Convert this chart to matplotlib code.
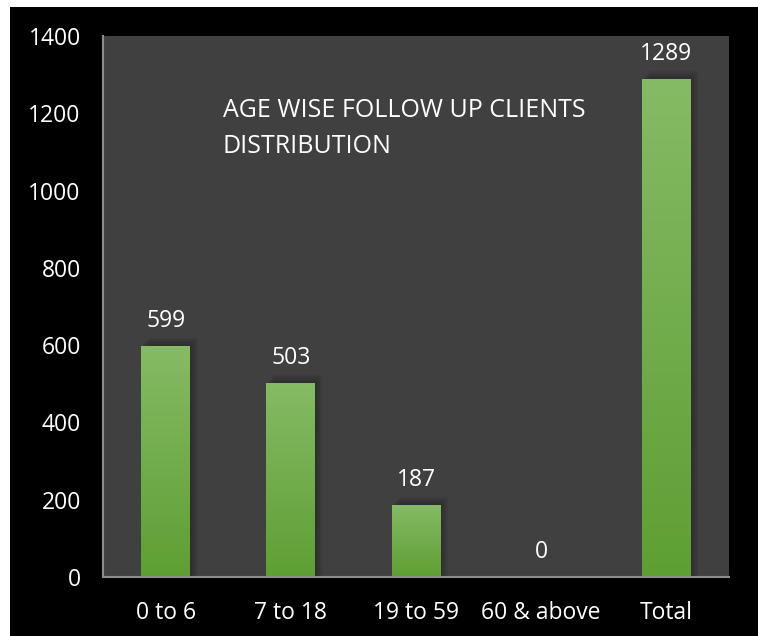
import numpy as np
import matplotlib.pyplot as plt
from matplotlib.patches import Rectangle
from matplotlib.colors import LinearSegmentedColormap

categories = ["0 to 6", "7 to 18", "19 to 59", "60 & above", "Total"]
clients = [599, 503, 187, 0, 1289]
yticks = [0, 200, 400, 600, 800, 1000, 1200, 1400]

plt.rcParams['font.family'] = ['Open Sans', 'DejaVu Sans']

W, H = 758, 636
fig = plt.figure(figsize=(W / 100, H / 100), dpi=100, facecolor="white")
# black chart area (behind the axes)
fig.patches.append(Rectangle((10 / W, 0), 1 - 10 / W, 1 - 7 / H,
                             transform=fig.transFigure, facecolor="black",
                             edgecolor="none", zorder=-10))

ax = fig.add_axes([103 / W, 59 / H, 626 / W, 541 / H])
ax.set_facecolor("#404040")

x = np.arange(len(categories))
bars = ax.bar(x, clients, width=0.39, color="#72ad4b", zorder=2)

# vertical gradient + soft shadow on each bar
green = LinearSegmentedColormap.from_list("g", ["#5e9f33", "#85bb65"])
grad = np.linspace(0, 1, 256).reshape(-1, 1)
for b in bars:
    x0, w, h = b.get_x(), b.get_width(), b.get_height()
    if h <= 0:
        continue
    for k in range(1, 6):
        ax.add_patch(Rectangle((x0 + 0.012 * k, 0), w, h + 4 * k,
                               facecolor="black", alpha=0.05, zorder=1,
                               edgecolor="none"))
    im = ax.imshow(grad, cmap=green, aspect="auto", origin="lower",
                   extent=(x0, x0 + w, 0, h), zorder=3)
    im.set_clip_path(b)

for xi, v in zip(x, clients):
    ax.annotate(str(v), (xi, v), xytext=(0, 18), textcoords="offset points",
                ha="center", va="center", color="white", fontsize=16.5)

ax.set_xlim(-0.5, len(categories) - 0.5)
ax.set_ylim(0, 1400)
ax.set_yticks(yticks)
ax.set_xticks(x)
ax.set_xticklabels(categories)
ax.tick_params(axis="y", length=0, pad=16, labelsize=16.5, labelcolor="white")
ax.tick_params(axis="x", length=0, pad=17, labelsize=16.5, labelcolor="white")
for s in ["top", "right"]:
    ax.spines[s].set_visible(False)
for s in ["left", "bottom"]:
    ax.spines[s].set_color("#8c8c8c")
    ax.spines[s].set_linewidth(1.5)
    ax.spines[s].set_zorder(4)

ax.text(0.191, 0.886, "AGE WISE FOLLOW UP CLIENTS\nDISTRIBUTION",
        transform=ax.transAxes, ha="left", va="top", color="white",
        fontsize=18, linespacing=1.6)

fig.savefig("out.png", dpi=100, facecolor=fig.get_facecolor())
